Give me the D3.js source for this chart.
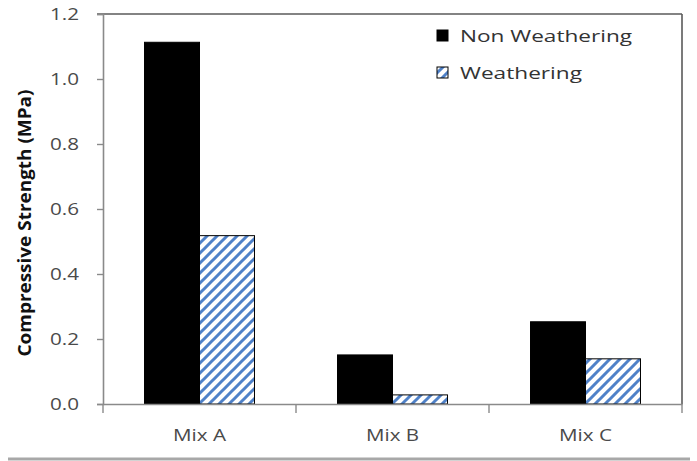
<!DOCTYPE html>
<html>
<head>
<meta charset="utf-8">
<script src="https://cdn.jsdelivr.net/npm/d3@7"></script>
<style>
  html, body { margin: 0; padding: 0; background: #fff; }
  svg { display: block; }
  text { font-family: "Open Sans", "Noto Sans", sans-serif; }
</style>
</head>
<body>
<svg id="chart" width="697" height="461"></svg>
<script>
const categories = ["Mix A", "Mix B", "Mix C"];
const seriesNames = ["Non Weathering", "Weathering"];
const nonWeathering = [1.113, 0.151, 0.253];
const weathering = [0.518, 0.028, 0.139];
const yTickValues = [0, 0.2, 0.4, 0.6, 0.8, 1.0, 1.2];
const yTitle = "Compressive Strength (MPa)";

const svg = d3.select("#chart");
const plotLeft = 103, plotRight = 682, plotTop = 14, plotBottom = 404;

// hatch pattern
const defs = svg.append("defs");
const pat = defs.append("pattern")
  .attr("id", "hatch").attr("patternUnits", "userSpaceOnUse")
  .attr("width", 10).attr("height", 10);
pat.append("rect").attr("width", 10).attr("height", 10).attr("fill", "#fff");
pat.append("path")
  .attr("d", "M-2,12 L12,-2 M-2,2 L2,-2 M8,12 L12,8")
  .attr("stroke", "#4F81C8").attr("stroke-width", 3);

const x0 = d3.scaleBand().domain(categories).range([plotLeft, plotRight]).paddingInner(0).paddingOuter(0);
const x1 = d3.scaleBand().domain(seriesNames).range([0, x0.bandwidth()]).paddingInner(0).paddingOuter(0.755);
const y = d3.scaleLinear().domain([0, 1.2]).range([plotBottom, plotTop]);

const rows = categories.map((c, i) => ({cat: c, values: [
  {s: seriesNames[0], v: nonWeathering[i]},
  {s: seriesNames[1], v: weathering[i]}
]}));

// frame top & right
svg.append("line").attr("x1", plotLeft - 6).attr("x2", plotRight).attr("y1", plotTop).attr("y2", plotTop)
  .attr("stroke", "#5a5a5a").attr("stroke-width", 1.6);
svg.append("line").attr("x1", plotRight).attr("x2", plotRight).attr("y1", plotTop).attr("y2", plotBottom)
  .attr("stroke", "#5a5a5a").attr("stroke-width", 1.6);

// bars
const g = svg.append("g").selectAll("g").data(rows).join("g")
  .attr("transform", d => `translate(${x0(d.cat)},0)`);
g.selectAll("rect").data(d => d.values).join("rect")
  .attr("x", d => x1(d.s))
  .attr("y", d => y(d.v))
  .attr("width", x1.bandwidth())
  .attr("height", d => y(0) - y(d.v))
  .attr("fill", d => d.s === seriesNames[0] ? "#000" : "url(#hatch)")
  .attr("stroke", "#000")
  .attr("stroke-width", 1);

// y axis
const yAxis = svg.append("g").attr("transform", `translate(${plotLeft},0)`)
  .call(d3.axisLeft(y).tickValues(yTickValues).tickFormat(d3.format(".1f")).tickSize(6).tickPadding(18));
yAxis.select(".domain").attr("stroke", "#8a8a8a").attr("stroke-width", 1.6);
yAxis.selectAll(".tick line").attr("stroke", "#8a8a8a").attr("stroke-width", 1.4);
yAxis.selectAll(".tick text").attr("font-size", 16).attr("fill", "#4a4a4a")
  .attr("font-family", "'Open Sans', sans-serif")
  .attr("textLength", 29).attr("lengthAdjust", "spacingAndGlyphs");

// x axis
const xAxis = svg.append("g").attr("transform", `translate(0,${plotBottom})`)
  .call(d3.axisBottom(x0).tickSize(0).tickPadding(26));
xAxis.select(".domain").attr("stroke", "#8a8a8a").attr("stroke-width", 1.6);
xAxis.selectAll(".tick text").attr("font-size", 16).attr("fill", "#4a4a4a")
  .attr("font-family", "'Open Sans', sans-serif")
  .attr("textLength", 53).attr("lengthAdjust", "spacingAndGlyphs");
// category boundary ticks
const bounds = categories.map(c => x0(c)).concat([x0(categories[categories.length - 1]) + x0.bandwidth()]);
svg.append("g").selectAll("line").data(bounds).join("line")
  .attr("x1", d => d).attr("x2", d => d).attr("y1", plotBottom).attr("y2", plotBottom + 9)
  .attr("stroke", "#8a8a8a").attr("stroke-width", 1.4);

// y title
svg.append("text")
  .attr("transform", `translate(31,223) rotate(-90)`)
  .attr("text-anchor", "middle")
  .attr("font-size", 18).attr("font-weight", "bold").attr("fill", "#111")
  .attr("textLength", 267).attr("lengthAdjust", "spacingAndGlyphs")
  .text(yTitle);

// legend
const legend = svg.append("g");
const legendRows = [
  {name: seriesNames[0], fill: "#000", y: 36, len: 172},
  {name: seriesNames[1], fill: "url(#hatch)", y: 73, len: 122}
];
legendRows.forEach(r => {
  legend.append("rect").attr("x", 437).attr("y", r.y - 6).attr("width", 11).attr("height", 11)
    .attr("fill", r.fill).attr("stroke", "#000").attr("stroke-width", 1);
  legend.append("text").attr("x", 460).attr("y", r.y + 6)
    .attr("font-size", 17).attr("fill", "#333")
    .attr("textLength", r.len).attr("lengthAdjust", "spacingAndGlyphs")
    .text(r.name);
});

// bottom rule
svg.append("line").attr("x1", 8).attr("x2", 690).attr("y1", 459).attr("y2", 459)
  .attr("stroke", "#a8a8a8").attr("stroke-width", 3);
</script>
</body>
</html>
